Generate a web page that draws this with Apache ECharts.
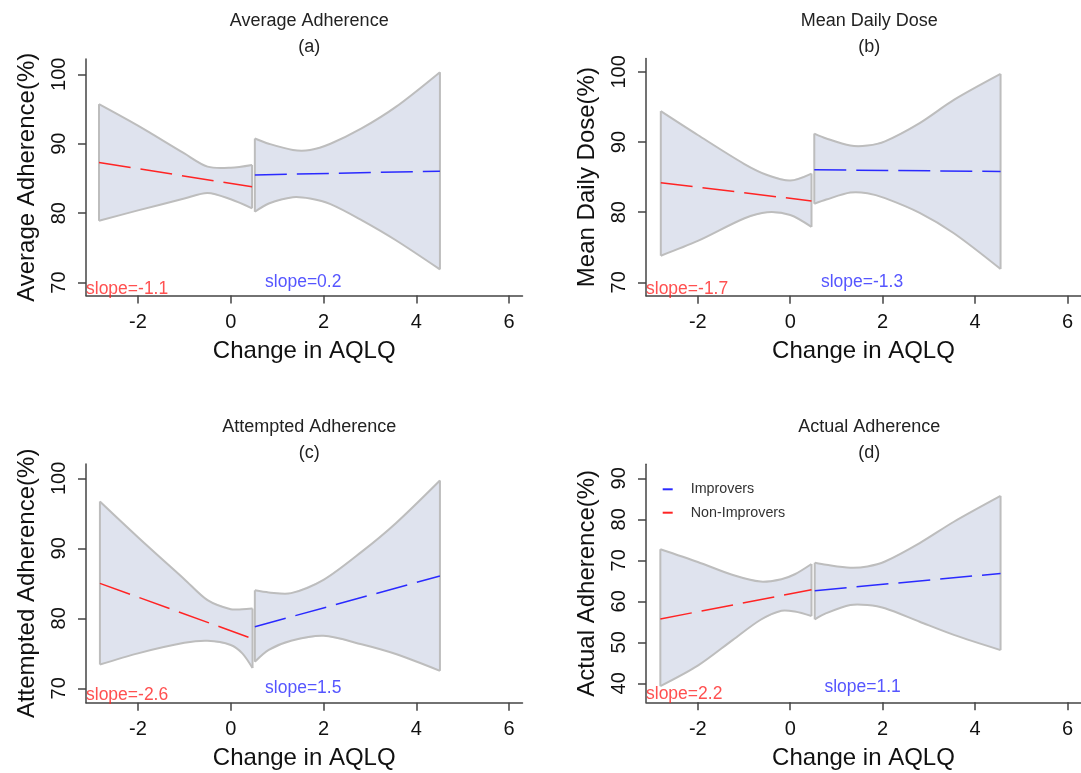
<!DOCTYPE html>
<html>
<head>
<meta charset="utf-8">
<script src="https://cdn.jsdelivr.net/npm/echarts@6/dist/echarts.min.js"></script>
<style>
html,body{margin:0;padding:0;background:#fff;}
#main{width:1081px;height:773px;}
</style>
</head>
<body>
<div id="main"></div>
<script>
// ---------- data ----------
const xTicks = [-2, 0, 2, 4, 6];
const yTicksPct = [70, 80, 90, 100];
const yTicksActual = [40, 50, 60, 70, 80, 90];

const panelTitles = ['Average Adherence', 'Mean Daily Dose', 'Attempted Adherence', 'Actual Adherence'];
const panelLetters = ['(a)', '(b)', '(c)', '(d)'];
const yNames = ['Average Adherence(%)', 'Mean Daily Dose(%)', 'Attempted Adherence(%)', 'Actual Adherence(%)'];
const xName = 'Change in AQLQ';
const slopeNon = ['slope=-1.1', 'slope=-1.7', 'slope=-2.6', 'slope=2.2'];
const slopeImp = ['slope=0.2', 'slope=-1.3', 'slope=1.5', 'slope=1.1'];

// (a) Average Adherence
const aNonX = [-2.84, -2, -1, -0.5, 0, 0.46];
const aNonUpper = [95.7, 92.6, 88.6, 86.7, 86.55, 86.95];
const aNonLower = [78.9, 80.4, 82.1, 82.9, 82.0, 80.7];
const aNonFitX = [-2.84, 0.46];
const aNonFit = [87.3, 83.8];
const aImpX = [0.52, 0.82, 1.34, 1.71, 2.15, 2.82, 3.56, 4.51];
const aImpUpper = [90.75, 90.0, 89.1, 89.1, 90.0, 92.2, 95.3, 100.3];
const aImpLower = [80.2, 81.4, 82.3, 82.1, 81.3, 79.0, 76.1, 71.9];
const aImpFitX = [0.52, 4.51];
const aImpFit = [85.5, 86.05];

// (b) Mean Daily Dose
const bNonX = [-2.80, -2, -1, -0.5, 0, 0.46];
const bNonUpper = [94.4, 91.0, 86.9, 85.3, 84.5, 85.5];
const bNonLower = [73.8, 75.9, 79.1, 80.0, 79.6, 77.9];
const bNonFitX = [-2.80, 0.46];
const bNonFit = [84.2, 81.6];
const bImpX = [0.52, 0.78, 1.3, 1.67, 2.05, 2.8, 3.54, 4.55];
const bImpUpper = [91.2, 90.5, 89.5, 89.5, 90.1, 92.7, 96.0, 99.7];
const bImpLower = [81.2, 81.8, 82.8, 82.7, 82.0, 79.9, 77.0, 71.9];
const bImpFitX = [0.52, 4.55];
const bImpFit = [86.05, 85.8];

// (c) Attempted Adherence
const cNonX = [-2.82, -2, -1, -0.5, 0, 0.25, 0.47];
const cNonUpper = [96.7, 91.6, 85.6, 82.6, 81.3, 81.3, 81.4];
const cNonLower = [73.4, 75.0, 76.5, 76.8, 76.2, 75.0, 72.9];
const cNonFitX = [-2.82, 0.47];
const cNonFit = [85.0, 77.1];
const cImpX = [0.52, 0.82, 1.3, 2.0, 2.82, 3.56, 4.51];
const cImpUpper = [84.0, 83.7, 83.6, 85.5, 89.5, 93.6, 99.7];
const cImpLower = [73.8, 75.5, 76.8, 77.5, 76.3, 74.9, 72.5];
const cImpFitX = [0.52, 4.51];
const cImpFit = [78.8, 86.05];

// (d) Actual Adherence
const dNonX = [-2.81, -2, -1.24, -0.64, -0.19, 0.1, 0.46];
const dNonUpper = [72.7, 69.6, 66.4, 64.8, 65.4, 66.6, 69.1];
const dNonLower = [39.3, 44.3, 50.6, 55.5, 57.7, 57.5, 56.4];
const dNonFitX = [-2.81, 0.46];
const dNonFit = [55.7, 62.8];
const dImpX = [0.53, 0.78, 1.3, 1.67, 2.05, 2.8, 3.54, 4.55];
const dImpUpper = [69.4, 68.9, 68.2, 68.5, 69.7, 74.2, 79.4, 85.7];
const dImpLower = [55.6, 57.1, 59.1, 59.1, 58.3, 55.0, 51.8, 48.1];
const dImpFitX = [0.53, 4.55];
const dImpFit = [62.6, 66.8];

// ---------- layout / style ----------
const FONT = 'Liberation Sans, Arial, sans-serif';
const RED = '#ff2424';
const BLUE = '#2a2aff';
const BAND_FILL = '#dfe3ee';
const BAND_EDGE = '#bdbdbd';
const X_MIN = -3.12, X_MAX = 6.29;

const panels = [
  {grid: {left: 86, top: 59, width: 436.5, height: 236.6}, yMin: 68.13, yMax: 102.2, yTicks: yTicksPct,
   non: [aNonX, aNonUpper, aNonLower, aNonFitX, aNonFit], imp: [aImpX, aImpUpper, aImpLower, aImpFitX, aImpFit],
   nonLab: [X_MIN, 69.1], impLab: [0.74, 70.0], titleTop: 3},
  {grid: {left: 646, top: 58.5, width: 436.5, height: 237.2}, yMin: 68.1, yMax: 101.9, yTicks: yTicksPct,
   non: [bNonX, bNonUpper, bNonLower, bNonFitX, bNonFit], imp: [bImpX, bImpUpper, bImpLower, bImpFitX, bImpFit],
   nonLab: [X_MIN, 69.1], impLab: [0.665, 70.0], titleTop: 3},
  {grid: {left: 86, top: 464, width: 436.5, height: 238.7}, yMin: 67.95, yMax: 102.05, yTicks: yTicksPct,
   non: [cNonX, cNonUpper, cNonLower, cNonFitX, cNonFit], imp: [cImpX, cImpUpper, cImpLower, cImpFitX, cImpFit],
   nonLab: [X_MIN, 69.05], impLab: [0.74, 70.0], titleTop: 409},
  {grid: {left: 646, top: 464.3, width: 436.5, height: 238}, yMin: 35.37, yMax: 93.41, yTicks: yTicksActual,
   non: [dNonX, dNonUpper, dNonLower, dNonFitX, dNonFit], imp: [dImpX, dImpUpper, dImpLower, dImpFitX, dImpFit],
   nonLab: [X_MIN, 37.4], impLab: [0.74, 39.0], titleTop: 409}
];

const option = {
  backgroundColor: '#fff',
  animation: false,
  textStyle: {fontFamily: FONT},
  title: [], grid: [], xAxis: [], yAxis: [], series: [],
  legend: {
    data: ['Improvers', 'Non-Improvers'],
    orient: 'vertical',
    left: 662.7, top: 481.3,
    padding: 0,
    itemGap: 7.4,
    icon: 'rect',
    itemWidth: 10, itemHeight: 2,
    selectedMode: false,
    textStyle: {fontFamily: FONT, fontSize: 14.3, color: '#333', lineHeight: 16, padding: [0, 0, 0, 13]}
  }
};

function band(idx, xs, up, lo) {
  return {
    type: 'custom', xAxisIndex: idx, yAxisIndex: idx, z: 1, silent: true,
    data: xs.map((x, k) => [x, lo[k], up[k]]),
    encode: {x: 0, y: [1, 2]},
    renderItem: function (params, api) {
      if (params.dataIndex !== 0) return null;
      const upPts = xs.map((x, k) => api.coord([x, up[k]]));
      const loPts = xs.map((x, k) => api.coord([x, lo[k]]));
      const poly = upPts.concat(loPts.slice().reverse());
      const n = xs.length - 1;
      const edge = {stroke: BAND_EDGE, lineWidth: 2, fill: null};
      return {
        type: 'group',
        children: [
          {type: 'polygon', shape: {points: poly, smooth: 0}, style: {fill: BAND_FILL, stroke: null}},
          {type: 'polyline', shape: {points: upPts, smooth: 0.3}, style: edge},
          {type: 'polyline', shape: {points: loPts, smooth: 0.3}, style: edge},
          {type: 'line', shape: {x1: upPts[0][0], y1: upPts[0][1], x2: loPts[0][0], y2: loPts[0][1]}, style: edge},
          {type: 'line', shape: {x1: upPts[n][0], y1: upPts[n][1], x2: loPts[n][0], y2: loPts[n][1]}, style: edge}
        ]
      };
    }
  };
}
function fitLine(idx, name, color, xs, ys) {
  return {
    type: 'line', name: name, xAxisIndex: idx, yAxisIndex: idx, z: 3,
    data: xs.map((x, k) => [x, ys[k]]),
    symbol: 'none', silent: true, color: color,
    itemStyle: {color: color},
    lineStyle: {color: color, width: 1.5, type: [32, 10]}
  };
}
function slopeText(idx, text, color, pos) {
  return {
    type: 'scatter', xAxisIndex: idx, yAxisIndex: idx, z: 4, silent: true,
    symbolSize: 0, data: [pos], clip: false,
    label: {show: true, position: 'right', distance: 0, formatter: text,
            color: color, fontSize: 17.5, fontFamily: FONT}
  };
}

panels.forEach((p, i) => {
  const g = p.grid;
  option.grid.push(Object.assign({containLabel: false}, g));
  option.title.push({
    text: panelTitles[i] + '\n' + panelLetters[i],
    left: g.left + g.width / 2, top: p.titleTop, textAlign: 'center',
    textStyle: {fontFamily: FONT, fontSize: 18, fontWeight: 'normal', color: '#222', lineHeight: 26}
  });
  option.xAxis.push({
    type: 'value', gridIndex: i, min: X_MIN, max: X_MAX,
    name: xName, nameLocation: 'middle', nameGap: 44,
    nameTextStyle: {fontFamily: FONT, fontSize: 24, color: '#111'},
    axisLine: {onZero: false, lineStyle: {color: '#444', width: 1.5}},
    axisTick: {show: true, length: 8, lineStyle: {color: '#444', width: 1.5}, customValues: xTicks},
    axisLabel: {fontFamily: FONT, fontSize: 20, color: '#111', margin: 17, customValues: xTicks},
    splitLine: {show: false}
  });
  option.yAxis.push({
    type: 'value', gridIndex: i, min: p.yMin, max: p.yMax,
    name: yNames[i], nameLocation: 'middle', nameGap: 47,
    nameTextStyle: {fontFamily: FONT, fontSize: 24, color: '#111'},
    axisLine: {show: true, onZero: false, lineStyle: {color: '#444', width: 1.5}},
    axisTick: {show: true, length: 8, lineStyle: {color: '#444', width: 1.5}, customValues: p.yTicks},
    axisLabel: {fontFamily: FONT, fontSize: 20, color: '#111', margin: 17, rotate: 90, customValues: p.yTicks},
    splitLine: {show: false}
  });
  option.series.push(band(i, p.non[0], p.non[1], p.non[2]));
  option.series.push(band(i, p.imp[0], p.imp[1], p.imp[2]));
  option.series.push(fitLine(i, 'Non-Improvers', RED, p.non[3], p.non[4]));
  option.series.push(fitLine(i, 'Improvers', BLUE, p.imp[3], p.imp[4]));
  option.series.push(slopeText(i, slopeNon[i], RED, p.nonLab));
  option.series.push(slopeText(i, slopeImp[i], BLUE, p.impLab));
});

const chart = echarts.init(document.getElementById('main'), null, {renderer: 'canvas'});
chart.setOption(option);
</script>
</body>
</html>
